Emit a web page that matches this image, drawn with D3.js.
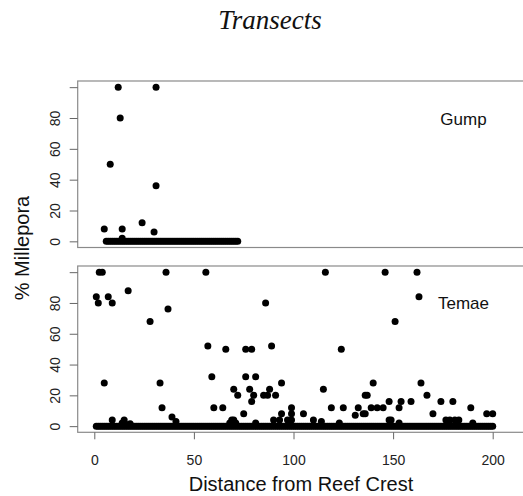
<!DOCTYPE html>
<html>
<head>
<meta charset="utf-8">
<script src="https://cdn.jsdelivr.net/npm/d3@7"></script>
<style>
  body { margin: 0; background: #fff; }
  svg { display: block; }
</style>
</head>
<body>
<svg id="svg" width="523" height="496"></svg>
<script>
// Gump transect: non-zero readings [distance, % Millepora]
var gumpPoints = [[5,8],[8,50],[12,100],[13,80],[14,8],[14,2],[24,12],[30,6],[31,100],[31,36]];
// Gump transect: distances where the reading was 0
var gumpZeros = [6,7,8,9,10,11,12,13,14,15,16,17,18,19,20,21,22,23,24,25,26,27,28,29,30,
  31,32,33,34,35,36,37,38,39,40,41,42,43,44,45,46,47,48,49,50,51,52,53,54,55,56,57,58,59,60,
  61,62,63,64,65,66,67,68,69,70,71,72];

// Temae transect: non-zero readings
var temaePoints = [[1,84],[2,80],[2.5,100],[4,100],[5,28],[7,84],[9,80],[9,4],[14,2],[15,4],[16,1],
  [17,88],[18,1.5],[28,68],[33,28],[34,12],[36,100],[37,76],[39,6],[41,3],[56,100],[57,52],
  [59,32],[60,12],[64.5,12],[66,50],[68,2],[69,4],[70,4],[70,24],[71,2],[72,20],[75,8],[76,50],
  [76,32],[78,24],[79,50],[79,16],[80,20],[81,32],[81,2],[85,20],[86,80],[87,20],[88,24],
  [89,52],[90,4],[91,20],[93,4],[94,28],[94,8],[97,4],[99,12],[99,8],[99,4],[105,8],[110,4],
  [114,3],[115,24],[116,100],[119,12],[123,2],[124,50],[125,12],[131,7],[132.5,12],[135,8],
  [136,8],[136,20],[137,20],[139,12],[140,28],[142,12],[145,12],[146,100],[148,16],[148,4],
  [149,4],[151,68],[153,12],[153,2],[154,16],[159,16],[162,100],[163,84],[164,28],[167,20],
  [170,8],[174,16],[176.5,4],[178.5,4],[180,16],[181,4],[183,4],[189,12],[190,2],[197,8],[200,8]];
// Temae transect: distances where the reading was 0
var temaeZeros = [1,2,3,4,5,6,7,8,9,10,11,12,13,14,15,16,17,18,19,20,21,22,23,24,25,26,27,28,29,30,
  31,32,33,34,35,36,37,38,39,40,41,42,43,44,45,46,47,48,49,50,51,52,53,54,55,56,57,58,59,60,
  61,62,63,64,65,66,67,68,69,70,71,72,73,74,75,76,77,78,79,80,81,82,83,84,85,86,87,88,89,90,
  91,92,93,94,95,96,97,98,99,100,101,102,103,104,105,106,107,108,109,110,111,112,113,114,115,
  116,117,118,119,120,121,122,123,124,125,126,127,128,129,130,131,132,133,134,135,136,137,138,
  139,140,141,142,143,144,145,146,147,148,149,150,151,152,153,154,155,156,157,158,159,160,161,
  162,163,164,165,166,167,168,169,170,171,172,173,174,175,176,177,178,179,180,181,182,183,184,
  185,186,187,188,189,190,191,192,193,194,195,196,197,198,199,200];

var yTicks = [0, 20, 40, 60, 80, 100];
var xTicks = [0, 50, 100, 150, 200];

var svg = d3.select('svg');
var font = '"Liberation Sans", Arial, sans-serif';

var x = d3.scaleLinear().domain([0, 200]).range([94.3, 492.7]);
var boxLeft = 77.7, boxRight = 540;

var panels = [
  {name: 'Gump', points: gumpPoints, zeros: gumpZeros, top: 81, bottom: 247.5, labelY: 125},
  {name: 'Temae', points: temaePoints, zeros: temaeZeros, top: 266, bottom: 432.3, labelY: 309.3}
];

panels.forEach(function(p){
  var y = d3.scaleLinear().domain([-4, 104]).range([p.bottom, p.top]);
  var g = svg.append('g');

  g.append('rect')
    .attr('x', boxLeft).attr('y', p.top)
    .attr('width', boxRight - boxLeft).attr('height', p.bottom - p.top)
    .attr('fill', 'none').attr('stroke', '#8a8a8a').attr('stroke-width', 1.2);

  var yAxis = g.append('g')
    .attr('transform', 'translate(' + boxLeft + ',0)')
    .call(d3.axisLeft(y).tickValues(yTicks).tickSize(8)
      .tickFormat(function(d){ return d === 100 ? '' : d; }));
  yAxis.select('.domain').remove();
  yAxis.selectAll('line').attr('stroke', '#666');
  yAxis.selectAll('text')
    .attr('transform', 'rotate(-90)')
    .attr('x', 0).attr('y', -17.7).attr('dy', 0)
    .attr('text-anchor', 'middle')
    .attr('fill', '#222')
    .style('font-family', font).style('font-size', '14px');

  var all = p.zeros.map(function(d){ return [d, 0]; }).concat(p.points);
  g.selectAll('circle')
    .data(all)
    .enter()
    .append('circle')
    .attr('cx', function(d){ return x(d[0]); })
    .attr('cy', function(d){ return y(d[1]); })
    .attr('r', 3.5)
    .attr('fill', '#000');

  g.append('text')
    .attr('x', 463.5).attr('y', p.labelY)
    .attr('text-anchor', 'middle')
    .style('font-family', font).style('font-size', '17px')
    .attr('fill', '#111')
    .text(p.name);

  if (p.name === 'Temae') {
    var xAxis = g.append('g')
      .attr('transform', 'translate(0,' + p.bottom + ')')
      .call(d3.axisBottom(x).tickValues(xTicks).tickSize(7));
    xAxis.select('.domain').remove();
    xAxis.selectAll('line').attr('stroke', '#666');
    xAxis.selectAll('text')
      .attr('y', 32.7).attr('dy', 0)
      .attr('fill', '#222')
      .style('font-family', font).style('font-size', '14px');
  }
});

svg.append('text')
  .attr('x', 270).attr('y', 29)
  .attr('text-anchor', 'middle')
  .style('font-family', '"Liberation Serif", "Times New Roman", serif')
  .style('font-style', 'italic')
  .style('font-size', '27px')
  .attr('fill', '#111')
  .text('Transects');

svg.append('text')
  .attr('x', 301).attr('y', 491)
  .attr('text-anchor', 'middle')
  .style('font-family', font).style('font-size', '20px')
  .attr('fill', '#111')
  .text('Distance from Reef Crest');

svg.append('text')
  .attr('transform', 'translate(29,248) rotate(-90)')
  .attr('text-anchor', 'middle')
  .style('font-family', font).style('font-size', '20px')
  .attr('fill', '#111')
  .text('% Millepora');
</script>
</body>
</html>
